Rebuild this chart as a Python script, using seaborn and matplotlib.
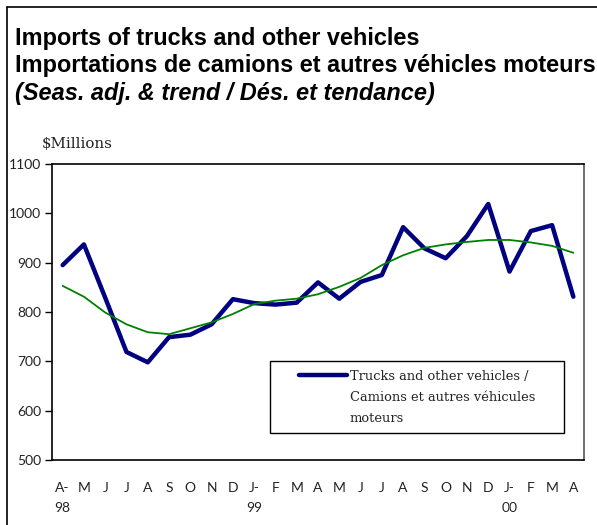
import numpy as np
import pandas as pd
import matplotlib
matplotlib.use("Agg")
import matplotlib.pyplot as plt
from matplotlib.lines import Line2D
from matplotlib.patches import Rectangle
import seaborn as sns

months = ["A-\n98", "M", "J", "J", "A", "S", "O", "N", "D", "J-\n99", "F", "M", "A",
          "M", "J", "J", "A", "S", "O", "N", "D", "J-\n00", "F", "M", "A"]
trucks = [895, 937, 829, 719, 698, 749, 754, 775, 826, 818, 815, 819, 860,
          827, 861, 875, 972, 929, 909, 954, 1019, 882, 964, 976, 831]
trend = [853, 831, 799, 775, 759, 755, 767, 779, 796, 816, 823, 827, 836,
         851, 869, 895, 915, 930, 937, 942, 946, 946, 941, 934, 920]
yticks = [500, 600, 700, 800, 900, 1000, 1100]
legend_lines = ["Trucks and other vehicles /", "Camions et autres véhicules", "moteurs"]

sns.set_style("white")
plt.rcParams["font.family"] = ["Liberation Sans", "DejaVu Sans"]

df = pd.DataFrame({"idx": np.arange(len(months)), "trucks": trucks, "trend": trend})

W, H = 597, 525
fig = plt.figure(figsize=(W / 100, H / 100), dpi=100)
ax = fig.add_axes([52 / W, 1 - 460 / H, (584 - 52) / W, (460 - 164) / H])

sns.lineplot(data=df, x="idx", y="trucks", ax=ax, color="#000080", linewidth=3.2,
             legend=False)
sns.lineplot(data=df, x="idx", y="trend", ax=ax, color="#008000", linewidth=1.3,
             legend=False)

ax.set_xlim(-0.5, len(months) - 0.5)
ax.set_ylim(500, 1100)
ax.set_yticks(yticks)
ax.set_yticklabels([str(v) for v in yticks], fontsize=10, color="#222222",
                   family=["Lato", "DejaVu Sans"])
ax.set_xticks(np.arange(len(months)))
ax.set_xticklabels(months, fontsize=10, color="#222222", family=["Lato", "DejaVu Sans"],
                   linespacing=1.75, va="top")
ax.set_xticks(np.arange(len(months) + 1) - 0.5, minor=True)
ax.tick_params(axis="x", which="major", length=0, pad=16)
ax.tick_params(axis="x", which="minor", length=7, direction="inout", width=1, color="black")
ax.tick_params(axis="y", which="major", length=5, direction="out", width=1, color="black", pad=3, left=True)
ax.set_xlabel("")
ax.set_ylabel("")
ax.grid(False)

for s in ["left", "bottom", "top"]:
    ax.spines[s].set_color("black")
    ax.spines[s].set_linewidth(1.2)
ax.spines["right"].set_color("#555555")
ax.spines["right"].set_linewidth(1.2)

# legend frame
fig.add_artist(Rectangle((270 / W, 1 - 433 / H), (564 - 270) / W, (433 - 361) / H,
                         transform=fig.transFigure, facecolor="white", edgecolor="black",
                         linewidth=1.0, zorder=5))
handles = [Line2D([], [], color="#000080", linewidth=3.2),
           Line2D([], [], color="none"),
           Line2D([], [], color="none")]
leg = fig.legend(handles, legend_lines, loc="upper left",
                 bbox_to_anchor=(299 / W, 1 - 370 / H), bbox_transform=fig.transFigure,
                 frameon=False, handlelength=3.65, handletextpad=0.25, borderpad=0,
                 borderaxespad=0, labelspacing=0.6,
                 prop={"family": "DejaVu Serif", "size": 9.4})
leg.set_zorder(6)
for t in leg.get_texts():
    t.set_color("#222222")

title_kw = dict(fontsize=16.9, fontweight="bold", ha="left", va="baseline", color="black")
fig.text(15 / W, 1 - 45 / H, "Imports of trucks and other vehicles", **title_kw)
fig.text(15 / W, 1 - 72 / H, "Importations de camions et autres véhicles moteurs", **title_kw)
fig.text(15 / W, 1 - 100 / H, "(Seas. adj. & trend / Dés. et tendance)", style="italic", **title_kw)
fig.text(42 / W, 1 - 148 / H, "$Millions", fontsize=10.8, family="DejaVu Serif",
         color="#222222", ha="left", va="baseline")

fig.add_artist(Line2D([7 / W, 7 / W], [0, 1 - 7 / H], transform=fig.transFigure,
                      color="black", linewidth=1.2))
fig.add_artist(Line2D([7 / W, 1], [1 - 7 / H, 1 - 7 / H], transform=fig.transFigure,
                      color="black", linewidth=1.2))

fig.savefig("out.png", dpi=100)
